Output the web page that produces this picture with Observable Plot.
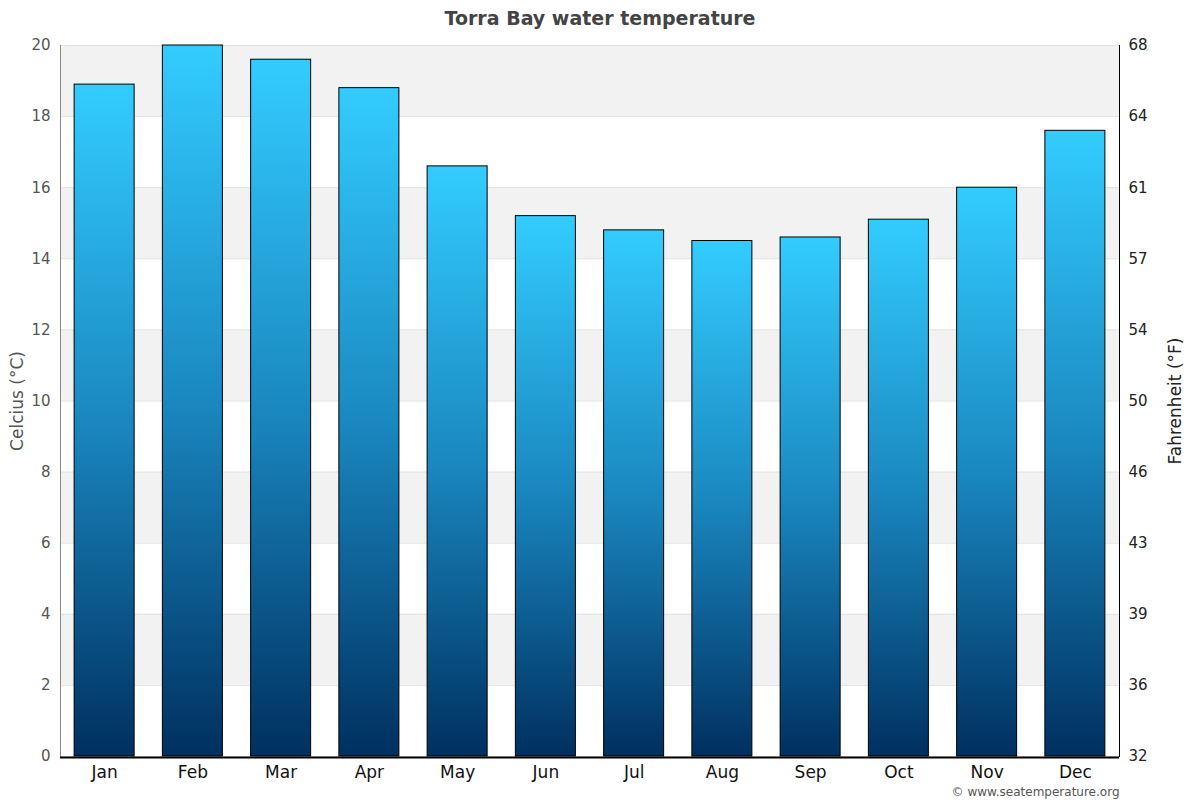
<!DOCTYPE html>
<html><head><meta charset="utf-8">
<script src="https://cdn.jsdelivr.net/npm/d3@7"></script>
<script src="https://cdn.jsdelivr.net/npm/@observablehq/plot@0.6"></script>
<style>body{margin:0;background:#fff} svg{display:block}</style>
</head><body><div id="chart"></div>
<script>
const months = ["Jan","Feb","Mar","Apr","May","Jun","Jul","Aug","Sep","Oct","Nov","Dec"];
const celsius = [18.9, 20.0, 19.6, 18.8, 16.6, 15.2, 14.8, 14.5, 14.6, 15.1, 16.0, 17.6];
const celsiusTicks = [0,2,4,6,8,10,12,14,16,18,20];
const fahrenheitLabels = [32,36,39,43,46,50,54,57,61,64,68];
const shadedBands = [2,6,10,14,18];
const title = "Torra Bay water temperature";
const leftLabel = "Celcius (°C)";
const rightLabel = "Fahrenheit (°F)";
const source = "© www.seatemperature.org";

const data = months.map((m, i) => ({month: m, temp: celsius[i]}));

const chart = Plot.plot({
  width: 1200, height: 800,
  marginTop: 45, marginBottom: 44, marginLeft: 60, marginRight: 81,
  style: {fontFamily: "DejaVu Sans, sans-serif", background: "#fff", overflow: "visible"},
  x: {domain: months, paddingInner: 0.32, paddingOuter: 0.16, round: false},
  y: {domain: [0, 20]},
  marks: [
    Plot.rect(shadedBands, {y1: d => d, y2: d => d + 2, fill: "#f2f2f2"}),
    Plot.ruleY(celsiusTicks, {stroke: "#e2e2e2"}),
    Plot.barY(data, {x: "month", y: "temp", fill: "url(#barGradient)", stroke: "#000", strokeWidth: 1}),
    Plot.frame({anchor: "left", stroke: "#888"}),
    Plot.frame({anchor: "right", stroke: "#000"}),
    Plot.ruleY([0], {stroke: "#000", strokeWidth: 2, dy: 1}),
    Plot.axisY(celsiusTicks, {anchor: "left", tickSize: 0, tickPadding: 10, fontSize: 15, color: "#555", label: null}),
    Plot.axisY(celsiusTicks, {anchor: "right", tickSize: 0, tickPadding: 9, fontSize: 15, color: "#222", label: null,
      tickFormat: d => fahrenheitLabels[celsiusTicks.indexOf(d)]}),
    Plot.axisX({tickSize: 0, tickPadding: 9, fontSize: 17, color: "#111", label: null}),
    Plot.text([title], {frameAnchor: "top", dx: 10, dy: -27, lineAnchor: "middle", textAnchor: "middle",
      fontSize: 19, fontWeight: "bold", fill: "#444"}),
    Plot.text([leftLabel], {frameAnchor: "left", dx: -43, rotate: -90, textAnchor: "middle", lineAnchor: "middle",
      fontSize: 17, fill: "#555"}),
    Plot.text([rightLabel], {frameAnchor: "right", dx: 56, rotate: -90, textAnchor: "middle", lineAnchor: "middle",
      fontSize: 17, fill: "#222"}),
    Plot.text([source], {frameAnchor: "bottom-right", dy: 36, lineAnchor: "middle", fontSize: 12, fill: "#555", textAnchor: "end"})
  ]
});

const svg = d3.select(chart);
const defs = svg.insert("defs", ":first-child");
const grad = defs.append("linearGradient").attr("id", "barGradient")
  .attr("x1", 0).attr("y1", 0).attr("x2", 0).attr("y2", 1);
grad.append("stop").attr("offset", "0%").attr("stop-color", "#33ccff");
grad.append("stop").attr("offset", "50%").attr("stop-color", "#1a88c0");
grad.append("stop").attr("offset", "100%").attr("stop-color", "#003060");

document.getElementById("chart").appendChild(chart);
</script>
</body></html>
